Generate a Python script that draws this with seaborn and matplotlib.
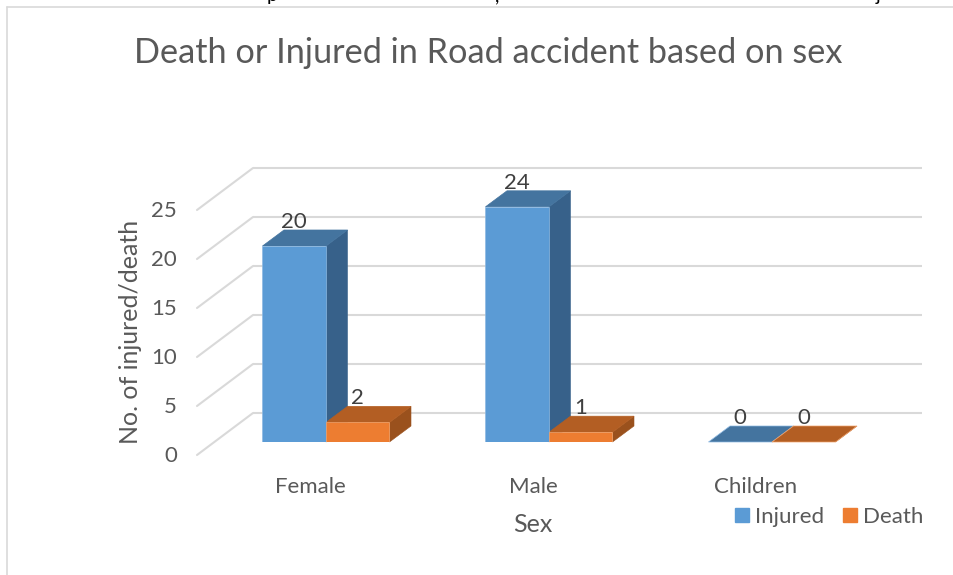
import matplotlib
matplotlib.use("Agg")
import matplotlib.pyplot as plt
from matplotlib.lines import Line2D
from matplotlib.patches import Polygon, Patch
from matplotlib.transforms import ScaledTranslation
import pandas as pd
import seaborn as sns

categories = ["Female", "Male", "Children"]
injured = [20, 24, 0]
death = [2, 1, 0]
y_ticks = [0, 5, 10, 15, 20, 25]
title = "Death or Injured in Road accident based on sex"

sns.set_theme(style="white")
plt.rcParams["font.family"] = ["Lato", "DejaVu Sans"]

W, H = 954, 575
fig = plt.figure(figsize=(W / 100, H / 100), dpi=100)
PX_PER_UNIT = 9.8
PX_PER_CAT = 223
ax_left, ax_right, ax_base = 197, 922, 442
ax_top = ax_base - 25 * PX_PER_UNIT
ax = fig.add_axes([ax_left / W, 1 - ax_base / H, (ax_right - ax_left) / W, (ax_base - ax_top) / H])

df = pd.DataFrame({
    "Sex": categories * 2,
    "Series": ["Injured"] * 3 + ["Death"] * 3,
    "Value": injured + death,
})
BLUE, ORANGE = "#5B9BD5", "#ED7D31"
sns.barplot(data=df, x="Sex", y="Value", hue="Series", order=categories,
            hue_order=["Injured", "Death"], palette=[BLUE, ORANGE],
            width=127 / PX_PER_CAT, gap=0, saturation=1, ax=ax, legend=False, zorder=4)
ax.set_xlim((ax_left - 326) / PX_PER_CAT, (ax_right - 326) / PX_PER_CAT)
ax.set_ylim(0, 25)
sns.despine(ax=ax, left=True, bottom=True)
ax.grid(False)
ax.patch.set_alpha(0)

px_x = lambda p: p / PX_PER_CAT
px_y = lambda p: p / PX_PER_UNIT

# back wall and its left side
x0 = ax.get_xlim()[0]
wall_dx, wall_dy, floor_drop = px_x(56), px_y(29), px_y(13)
GRID = "#D9D9D9"
for v in y_ticks:
    ax.plot([x0 + wall_dx, ax.get_xlim()[1]], [v + wall_dy, v + wall_dy], color=GRID, lw=1.5,
            clip_on=False, zorder=1, solid_capstyle="butt")
    ax.plot([x0, x0 + wall_dx], [v - floor_drop, v + wall_dy], color=GRID, lw=1.5,
            clip_on=False, zorder=1)

# 3-D faces built from the bars drawn by seaborn
dx, dy = px_x(21.5), px_y(16)
shades = [("#44749F", "#37618A", BLUE, "#8DB9E2"), ("#B35E23", "#9A511D", ORANGE, "#F2A36B")]
for s, (container, (top_c, side_c, front_c, edge_c)) in enumerate(zip(ax.containers, shades)):
    for bar in container:
        xl, w, h = bar.get_x(), bar.get_width(), bar.get_height()
        xr = xl + w
        bar.set_edgecolor(edge_c)
        bar.set_linewidth(0.5)
        z = 2 + s * 0.5
        ax.add_patch(Polygon([(xr, 0), (xr + dx, dy), (xr + dx, h + dy), (xr, h)], closed=True,
                             facecolor=side_c, edgecolor=side_c, lw=0.4, zorder=z, clip_on=False))
        ax.add_patch(Polygon([(xl, h), (xr, h), (xr + dx, h + dy), (xl + dx, h + dy)], closed=True,
                             facecolor=top_c, edgecolor=edge_c if h == 0 else top_c, lw=0.5,
                             zorder=z + 0.1, clip_on=False))
        ax.text(xl + w / 2, h + dy + px_y(8), f"{int(h)}", ha="center", va="center",
                fontsize=16, color="#404040", zorder=6, clip_on=False)

# axis text
TXT = "#595959"
ax.set_yticks(y_ticks)
ax.set_yticklabels([str(v) for v in y_ticks])
ax.tick_params(axis="y", length=0, pad=14.5, labelsize=16, labelcolor=TXT)
ax.tick_params(axis="x", length=0, pad=25, labelsize=16, labelcolor=TXT)
for lab in ax.get_yticklabels():
    lab.set_transform(lab.get_transform() + ScaledTranslation(0, -12 / 100, fig.dpi_scale_trans))
for lab in ax.get_xticklabels():
    lab.set_transform(lab.get_transform() + ScaledTranslation(-16 / 100, 0, fig.dpi_scale_trans))
ax.set_xlabel("")
ax.set_ylabel("")
fig.text(131 / W, 1 - 332 / H, "No. of injured/death", rotation=90, ha="center", va="center",
         fontsize=18, color=TXT)
fig.text(533 / W, 1 - 525 / H, "Sex", ha="center", va="center", fontsize=18, color=TXT)
fig.text(488 / W, 1 - 53 / H, title, ha="center", va="center", fontsize=24.7, color=TXT)

fig.legend(handles=[Patch(color=BLUE, label="Injured"), Patch(color=ORANGE, label="Death")],
           ncol=2, frameon=False, loc="center right", bbox_to_anchor=(923 / W, 1 - 517 / H),
           fontsize=16, labelcolor=TXT, handlelength=0.63, handleheight=0.63, handletextpad=0.27,
           columnspacing=0.85, borderpad=0, borderaxespad=0)

# chart frame and the cut-off line of text above it
fig.add_artist(Line2D([7 / W, 7 / W], [0, 1 - 7 / H], color=GRID, lw=1.2))
fig.add_artist(Line2D([7 / W, 1], [1 - 7 / H, 1 - 7 / H], color=GRID, lw=1.2))
for ch, xp in [("p", 272), (",", 497), ("j", 878)]:
    fig.text(xp / W, 1 - 1 / H, ch, ha="center", va="baseline", fontsize=14, color="black")

fig.savefig("out.png", dpi=100)
